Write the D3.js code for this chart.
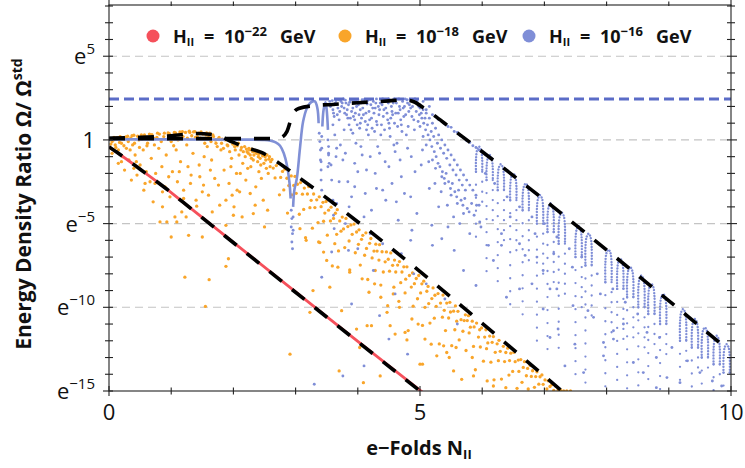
<!DOCTYPE html>
<meta charset="utf-8">
<script src="https://d3js.org/d3.v7.min.js"></script>
<style>
  body { margin: 0; background: #fff; }
  text { font-family: "Open Sans", "DejaVu Sans", sans-serif; }
</style>
<div id="chart"></div>
<script>
// ---- data: x = e-folds N_II, y = ln(Omega / Omega_std) ----
const xMajor = [0, 5, 10];
const yMajor = [-15, -10, -5, 0, 5];
const gridLevels = [5, 0, -5, -10];

const legendLabels = ["\u221222", "\u221218", "\u221216"];

// H = 1e-22 GeV : dense points that read as a solid line
const redLine = [[0, -0.42], [0.15, -0.8], [0.3, -1.2], [0.5, -1.75], [0.7, -2.3], [0.95, -3.0], [1.2, -3.75], [2, -6.12], [3, -9.08], [4, -12.04], [5.05, -15.1]];
const redFit = [[0, -0.42], [0.15, -0.8], [0.3, -1.2], [0.5, -1.75], [0.7, -2.3], [0.95, -3.0], [1.2, -3.75], [5, -15]];

// H = 1e-18 GeV
const orangeFit = [[0, 0.1], [0.5, 0.15], [1.0, 0.25], [1.4, 0.38], [1.7, 0.3], [2.0, -0.15], [2.2, -0.45], [2.45, -0.75], [2.7, -1.3], [3.0, -2.1], [7.28, -15]];
const orangeDots = [
  // early plateau
  [0.02,0.05],[0.05,-0.1],[0.08,0.15],[0.1,-0.3],[0.12,0.1],[0.15,-0.6],[0.18,0.2],[0.2,-0.2],[0.22,-1.0],[0.25,0.05],[0.28,-0.5],[0.3,0.22],[0.05,-0.8],[0.15,-1.4],[0.25,-1.8],[0.32,-1.2],
  [0.35,0.1],[0.38,-0.3],[0.4,0.28],[0.42,-0.9],[0.45,-2.1],[0.48,0.0],[0.5,-1.5],[0.52,0.3],[0.55,-0.6],[0.58,-2.6],[0.6,0.15],[0.36,-2.4],[0.44,-1.3],[0.56,-3.0],
  [0.62,-0.2],[0.65,0.35],[0.68,-1.1],[0.71,-3.7],[0.72,0.1],[0.75,-2.0],[0.78,0.4],[0.8,-0.5],[0.82,-4.9],[0.85,-1.6],[0.88,0.2],[0.9,-2.8],[0.92,-0.9],[0.93,-4.9],[0.95,0.42],[0.98,-3.4],[1.0,-0.1],[0.66,-2.5],[0.86,-3.1],
  [1.02,-1.9],[1.05,0.45],[1.06,-4.6],[1.08,-0.6],[1.09,-4.9],[1.1,-2.5],[1.12,0.3],[1.15,-1.3],[1.17,-4.3],[1.18,0.5],[1.2,-3.0],[1.22,-8.2],[1.24,-4.6],[1.25,-0.3],[1.28,-5.7],[1.3,0.45],[1.32,-2.1],[1.35,-0.8],[1.38,0.5],[1.4,-3.6],[1.41,-3.96],[1.0,-5.8],[1.27,-1.6],
  [1.42,0.2],[1.45,-1.5],[1.48,0.48],[1.5,-5.8],[1.52,-2.7],[1.55,-9.95],[1.56,0.3],[1.58,-0.4],[1.6,-3.3],[1.61,-8.35],[1.62,0.4],[1.65,-1.2],[1.68,0.2],[1.7,-2.3],[1.72,-0.2],[1.75,0.05],[1.78,-3.9],[1.8,-0.6],[1.53,-1.0],[1.66,-4.3],
  [1.82,0.05],[1.85,-1.8],[1.88,-5.1],[1.88,-7.55],[1.9,-0.3],[1.92,-7.1],[1.93,-2.6],[1.95,-0.1],[1.97,-1.1],[2.0,-4.5],[2.01,-4.0],[2.02,-0.4],[2.05,-2.0],[2.08,-0.2],[2.1,-3.1],[2.12,-0.6],[2.15,-1.4],[2.18,-0.4],[2.2,-2.4],[2.22,-0.7],[1.98,-3.3],[2.14,-4.6],
  [2.25,-0.5],[2.27,-0.9],[2.3,-0.55],[2.32,-1.2],[2.34,-0.7],[2.36,-2.8],[2.38,-0.65],[2.4,-1.0],[2.42,-0.75],[2.44,-1.5],[2.46,-0.8],[2.48,-3.6],[2.5,-0.85],[2.52,-1.2],[2.54,-0.9],[2.56,-2.0],[2.58,-1.0],[2.6,-1.3],[2.28,-1.6],[2.35,-3.9],[2.45,-2.3],[2.5,-5.2],[2.55,-4.2],[2.32,-4.4],
  [0.03,-0.25],[0.07,0.0],[0.11,-0.45],[0.14,0.12],[0.17,-0.15],[0.21,0.1],[0.24,-0.35],[0.27,0.18],[0.31,-0.1],[0.34,-0.6],[0.37,0.25],[0.41,-0.2],[0.46,0.22],[0.49,-0.45],[0.53,0.05],[0.57,0.3],[0.61,-0.35],[0.64,0.1],[0.69,0.32],[0.73,-0.3],[0.77,0.15],[0.81,0.35],[0.84,-0.1],[0.89,0.4],[0.94,0.05],[0.97,0.38],
  [1.01,0.25],[1.04,-0.35],[1.07,0.42],[1.11,0.0],[1.14,0.48],[1.19,0.2],[1.23,0.45],[1.26,0.1],[1.29,0.52],[1.33,0.25],[1.36,0.48],[1.39,0.15],[1.44,0.4],[1.47,0.1],[1.51,0.35],[1.54,-0.2],[1.57,0.42],[1.6,0.15],[1.64,-0.1],[1.67,0.3],[1.71,0.0],[1.74,-0.4],[1.77,0.15],[1.81,-0.2],[1.84,-0.5],[1.87,0.0],[1.91,-0.35],[1.94,-0.7],[1.99,-0.25],
  [2.03,-0.6],[2.06,-0.35],[2.09,-0.9],[2.13,-0.45],[2.16,-0.7],[2.19,-1.0],[2.21,-0.55],[2.24,-0.8],[2.26,-0.6],[2.29,-1.1],[2.31,-0.7],[2.33,-0.9],[2.37,-0.8],[2.39,-1.3],[2.41,-0.85],[2.43,-1.1],[2.47,-0.95],[2.49,-1.4],[2.51,-1.0],[2.53,-1.7],[2.57,-1.15],[2.59,-1.6],
  [0.2,-1.3],[0.4,-1.7],[0.6,-1.9],[0.74,-2.6],[0.96,-2.2],[1.13,-1.9],[1.31,-2.6],[1.46,-2.2],[1.63,-1.8],[1.76,-2.7],[1.96,-1.6],[2.11,-2.0],[2.23,-1.7],[2.41,-1.9],[1.5,-3.1],[1.2,-3.5],[0.86,-4.0],[1.88,-3.6],[2.06,-3.0],[2.27,-3.2],
  // steep fall-off band
  [2.62,-1.17],[2.64,-1.68],[2.67,-2.27],[2.69,-1.53],[2.73,-1.4],[2.74,-3.28],[2.76,-2.24],[2.79,-1.88],[2.81,-2.99],[2.83,-1.75],[2.86,-2.29],[2.87,-4.37],[2.89,-2.73],[2.93,-2.15],[2.94,-3.28],[2.97,-2.72],[2.99,-2.18],
  [3.01,-3.19],[3.03,-2.65],[3.06,-4.44],[3.08,-2.55],[3.11,-3.24],[3.13,-4.15],[3.14,-2.88],[3.16,-5.84],[3.19,-3.23],[3.21,-2.79],[3.23,-4.05],[3.25,-3.61],[3.27,-5.27],[3.29,-3.23],[3.31,-4.04],[3.34,-3.58],[3.36,-4.94],[3.38,-3.4],[3.39,-6.13],
  [3.41,-3.99],[3.44,-3.73],[3.45,-4.86],[3.47,-4.37],[3.49,-3.68],[3.51,-5.69],[3.53,-4.2],[3.56,-4.84],[3.57,-4.02],[3.59,-7.53],[3.61,-4.69],[3.64,-4.38],[3.66,-5.64],[3.67,-4.17],[3.69,-6.63],[3.71,-4.84],[3.73,-5.45],[3.75,-4.61],[3.77,-5.32],[3.79,-6.43],
  [3.81,-4.69],[3.84,-5.18],[3.86,-6.04],[3.87,-7.77],[3.89,-5.08],[3.91,-5.64],[3.94,-5.03],[3.96,-6.74],[3.98,-5.5],[4.01,-6.24],[4.02,-5.37],[4.04,-7.48],[4.06,-5.94],[4.08,-5.7],[4.11,-6.89],[4.13,-5.55],[4.14,-6.48],[4.16,-8.34],[4.19,-6.18],
  [4.21,-5.89],[4.23,-7.05],[4.26,-6.64],[4.28,-7.8],[4.29,-6.23],[4.31,-6.64],[4.34,-7.18],[4.35,-6.26],[4.37,-8.67],[4.39,-6.68],[4.41,-7.89],[4.44,-7.28],[4.46,-6.69],[4.48,-9.9],[4.49,-7.13],[4.51,-7.84],[4.53,-6.75],[4.56,-7.49],[4.58,-8.8],[4.59,-7.18],
  [4.61,-7.89],[4.64,-7.48],[4.66,-9.64],[4.67,-7.27],[4.69,-8.53],[4.71,-7.89],[4.74,-7.58],[4.76,-9.14],[4.77,-8.32],[4.79,-7.58],[4.81,-11.39],[4.83,-8.1],[4.86,-8.79],[4.88,-7.95],[4.89,-9.93],[4.91,-8.59],[4.94,-8.28],[4.96,-9.49],[4.98,-8.1],
  [5.01,-9.14],[5.03,-8.6],[5.04,-11.08],[5.06,-8.44],[5.08,-10.0],[5.11,-9.04],[5.13,-8.75],[5.14,-9.78],[5.16,-10.94],[5.19,-9.48],[5.21,-8.84],[5.23,-10.65],[5.24,-9.28],[5.26,-9.94],[5.29,-9.18],[5.31,-12.19],[5.33,-9.75],[5.36,-10.59],[5.37,-9.27],[5.39,-10.18],
  [5.41,-11.39],[5.43,-9.75],[5.46,-10.64],[5.48,-9.7],[5.49,-10.28],[5.51,-12.29],[5.54,-10.23],[5.56,-11.34],[5.57,-9.92],[5.59,-10.83],[5.61,-10.24],[5.63,-11.95],[5.66,-10.74],[5.69,-11.43],[5.71,-10.79],[5.73,-10.45],[5.74,-12.58],[5.76,-10.79],[5.78,-10.5],[5.79,-11.53],
  [5.81,-11.19],[5.84,-10.83],[5.86,-12.34],[5.87,-11.17],[5.89,-13.73],[5.91,-10.94],[5.94,-11.78],[5.96,-11.34],[5.97,-12.37],[5.99,-11.23],[6.02,-13.22],[6.04,-11.78],[6.06,-11.34],[6.07,-12.47],[6.09,-12.13],[6.12,-11.72],[6.14,-13.28],[6.16,-12.09],[6.18,-11.75],[6.19,-14.33],
  [6.21,-12.69],[6.24,-12.18],[6.26,-13.19],[6.27,-11.97],[6.29,-12.63],[6.31,-14.29],[6.34,-12.33],[6.36,-13.24],[6.38,-12.7],[6.41,-12.44],[6.43,-14.05],[6.44,-13.18],[6.46,-12.74],[6.49,-13.83],[6.51,-12.69],[6.53,-13.25],[6.56,-14.84],[6.58,-13.15],[6.59,-13.83],
  [6.62,-13.12],[6.64,-14.48],[6.66,-13.59],[6.68,-13.25],[6.71,-14.09],[6.73,-13.65],[6.74,-14.88],[6.77,-13.47],[6.79,-14.13],[6.81,-13.79],[6.84,-14.78],[6.86,-14.14],[6.88,-13.85],[6.91,-14.59],[6.93,-14.15],[6.96,-14.04],[6.98,-14.6],
  [7.01,-14.34],[7.04,-14.88],[7.06,-14.39],[7.09,-14.73],[7.12,-14.62],[7.15,-14.96],[7.18,-14.7],[7.22,-14.92],[7.26,-14.94],[7.31,-15.0],[7.36,-15.0],[7.42,-15.0],
  // sparse points well below the band
  [2.91,-12.8],[3.07,-5.3],[3.17,-6.0],[3.23,-10.3],[3.28,-9.0],[3.37,-6.1],[3.45,-6.7],[3.5,-7.2],[3.55,-8.8],[3.63,-6.2],[3.68,-7.6],[3.7,-13.8],[3.74,-10.2],[3.87,-7.9],[3.98,-11.3],[4.03,-12.4],[4.07,-8.3],[4.09,-14.5],[4.15,-11.1],[4.18,-9.1],
  [4.22,-11.1],[4.27,-8.6],[4.36,-14.1],[4.37,-9.4],[4.47,-10.3],[4.52,-11.1],[4.57,-9.2],[4.6,-11.6],[4.67,-10.0],[4.76,-11.5],[4.79,-11.95],[4.87,-10.7],[4.97,-11.0],[5.0,-13.4],[5.04,-13.4],[5.08,-11.9],[5.18,-12.2],[5.27,-12.9],[5.38,-12.3],[5.43,-12.7],
  [5.47,-13.0],[5.54,-13.8],[5.58,-12.4],[5.67,-14.3],[5.75,-15.1],[5.84,-13.0],[5.86,-14.1],[6.08,-14.4],[6.18,-14.7],[6.38,-14.8]
];

// H = 1e-16 GeV
const blueLevel = 2.44;
const blueFit = [[0, 0.08], [2.6, 0.08], [2.75, 0.12], [2.86, 0.5], [2.96, 1.6], [3.05, 1.88], [3.3, 2.05], [3.6, 2.12], [4.0, 2.22], [4.5, 2.33], [4.75, 2.4], [4.9, 2.28], [5.1, 1.8], [5.5, 0.7], [9.9, -12.37]];
const blueLineA = [[0, 0.03], [1, 0.03], [2, 0.02], [2.5, 0.0], [2.6, -0.05], [2.68, -0.15], [2.75, -0.35], [2.81, -0.8], [2.86, -1.5], [2.9, -2.5], [2.92, -3.5]];
const blueLineB = [[2.96, -4.0], [2.98, -3.0], [3.02, -2.3], [3.07, -0.5], [3.12, 1.08], [3.18, 1.88], [3.26, 2.28], [3.31, 2.3], [3.35, 1.9], [3.37, 1.0]];
const blueLineC = [[3.43, 0.8], [3.45, 1.8], [3.48, 2.25], [3.5, 1.8], [3.52, 0.6]];
const blueDots = [
  [2.93,-4.2],[2.94,-4.7],[2.93,-5.2],[2.95,-5.6],[2.94,-6.1],[2.95,-6.5],[2.96,-4.6],[2.96,-5.4],
  [3.38,0.4],[3.39,-0.1],[3.4,-0.6],[3.4,-1.2],[3.41,-1.8],[3.41,-2.4],[3.42,-3.0],[3.42,0.2],[3.52,0.0],[3.53,-0.4],[3.53,-0.9],[3.54,-1.4],
  [3.42,-8.2],[3.58,-6.7],[3.85,-6.6],[3.76,-14.1],
  [3.55,2.3],[3.58,2.1],[3.6,1.8],[3.62,1.4],[3.6,0.9],[3.63,0.3],[3.65,2.35],[3.66,-0.5],[3.68,1.9],[3.7,1.2],[3.57,-1.5],[3.58,-2.4],[3.6,-3.6],[3.61,-4.5],[3.62,-5.3],[3.42,-0.5],[3.41,-1.3],[3.53,-0.8],[3.52,-1.6],
  [3.72,2.4],[3.75,2.2],[3.78,1.9],[3.8,2.38],[3.82,1.5],[3.85,2.1],[3.86,0.9],[3.88,2.4],[3.9,1.7],[3.92,0.4],[3.94,2.3],[3.95,1.2],[3.97,-0.2],[3.98,2.0],[4.0,2.42],[4.02,1.5],[4.03,0.7],[4.05,2.2],[4.07,-0.9],[4.08,1.9],[4.1,2.4],[4.12,1.1],[4.14,-1.8],[4.15,2.15],[4.17,0.3],[4.18,1.7],[4.2,2.42],[3.76,-1.2],[3.84,-2.5],[3.9,-3.4],[4.0,-1.9],[4.1,-4.6],[3.8,-5.0],
  [3.74,2.0],[3.83,1.8],[3.92,1.9],[4.04,1.8],[4.13,1.6],[3.96,1.6],[4.06,1.3],[3.88,1.3],[3.78,0.6],[4.16,0.9],
  [3.56,2.0],[3.59,2.35],[3.61,1.6],[3.64,2.2],[3.67,1.5],[3.69,2.4],[3.71,1.7],[3.73,2.3],[3.77,2.45],[3.79,1.6],[3.81,2.2],[3.84,1.3],[3.87,2.25],[3.89,0.6],[3.91,2.4],[3.93,1.4],[3.97,2.35],[3.99,0.9],[4.01,2.1],[4.04,1.0],[4.07,2.4],[4.09,1.5],[4.11,2.25],[4.14,0.6],[4.16,2.35],[4.19,1.2],
  [4.21,2.1],[4.23,0.7],[4.26,1.6],[4.29,2.2],[4.31,0.9],[4.35,1.8],[4.37,0.3],[4.39,2.1],[4.41,1.4],[4.43,0.6],[4.47,1.6],[4.49,2.2],[4.51,0.7],[4.53,1.3],[4.57,2.2],[4.59,1.0],[4.61,1.6],[4.63,-0.2],[4.67,2.0],[4.69,1.2],[4.71,0.5],[4.73,1.9],[4.77,1.5],[4.79,2.4],[4.81,0.8],[4.83,2.1],[4.87,1.4],[4.89,2.4],[4.91,0.6],[4.94,1.7],[4.97,1.1],[4.99,1.5],
  [4.22,1.3],[4.25,2.3],[4.27,0.5],[4.28,1.9],[4.3,2.45],[4.32,-0.4],[4.34,1.5],[4.36,2.2],[4.38,0.9],[4.4,2.45],[4.42,1.8],[4.44,-1.3],[4.46,2.3],[4.48,1.2],[4.5,2.45],[4.52,0.2],[4.54,2.0],[4.56,1.5],[4.58,2.45],[4.6,-0.7],[4.62,2.2],[4.64,0.8],[4.66,2.45],[4.68,1.8],[4.7,-2.2],[4.72,2.3],[4.74,1.4],[4.76,2.45],[4.78,0.3],[4.8,2.2],[4.82,1.7],[4.84,2.4],[4.86,-1.0],[4.88,2.0],[4.9,1.2],
  [4.24,1.9],[4.33,2.0],[4.45,1.9],[4.55,1.7],[4.65,1.6],[4.75,2.0],[4.85,1.9],[4.3,1.1],[4.5,1.0],[4.7,0.9],
  [3.65,-1.0],[3.72,-0.3],[3.8,-0.8],[3.95,-1.4],[4.05,-0.4],[4.2,-1.0],[4.28,-2.0],[4.35,-0.8],[4.5,-1.6],[4.58,-0.3],[4.68,-1.2],[4.8,-0.5],[4.92,-1.9],[3.7,-2.5],[3.95,-2.8],[4.12,-3.2],[4.22,-4.2],[4.4,-3.0],[4.62,-3.7],[4.85,-3.4],[4.95,-4.4],[3.86,-4.0],[3.66,-3.8],[4.0,-6.5],[4.2,-5.6],[4.7,-6.8],[4.9,-8.0],[3.9,-9.8],[4.35,-10.5],[4.8,-12.8],[4.1,-13.5],[3.3,-14.6],
  [4.3,-2.9],[4.45,-3.6],[4.55,-2.6],[4.65,-4.8],[4.75,-3.2],[4.4,-6.2],[4.25,-7.8],[4.6,-9.2],[4.85,-6.0],[4.5,-11.9],[4.87,-5.4],[5.19,-5.1],[5.35,-5.9],
  [4.92,2.45],[4.95,2.3],[4.98,2.0],[5.0,1.9],[5.02,1.6],[5.05,1.8],[5.08,1.3],[5.1,1.6],[5.12,0.9],[5.15,1.3],[5.18,0.5],[5.2,1.0],[5.22,0.2],[5.25,0.7],[5.28,-0.2],[5.3,0.3],[5.33,-0.5],[5.35,0.0],[5.38,-0.8],[5.4,-0.3],[5.43,-1.1],[5.45,-0.6],[5.48,-1.5],[5.5,-0.9],[5.53,-1.8],[5.55,-1.2],[5.58,-2.1],[5.6,-1.5],[5.63,-2.4],[5.65,-1.8],[5.68,-2.7],[5.7,-2.1],[5.73,-3.0],[5.75,-2.4],[5.8,-2.7],[5.85,-3.0],[5.9,-3.3],
  [5.0,2.1],[5.1,1.8],[5.2,1.5],[5.3,1.2],[5.4,0.95],[5.5,0.75],[5.6,0.45],[5.7,0.15],[5.8,-0.15],[5.9,-0.45],
  [5.03,1.3],[5.06,1.0],[5.09,0.6],[5.13,0.3],[5.16,0.0],[5.19,-0.4],[5.23,-0.7],[5.26,-1.0],[5.29,-1.4],[5.32,-1.6],[5.36,-1.9],[5.39,-2.3],[5.42,-2.0],[5.46,-2.5],[5.49,-2.9],[5.52,-2.6],[5.56,-3.1],[5.59,-3.4],[5.62,-3.0],[5.66,-3.6],[5.69,-3.9],[5.72,-3.5],[5.76,-4.1],[5.79,-4.3],[5.83,-3.8],[5.87,-4.5],
  [5.04,-0.6],[5.14,-1.3],[5.24,-2.6],[5.34,-3.1],[5.44,-3.9],[5.54,-4.6],[5.64,-5.0],[5.8,-5.6],[5.05,2.3],[5.15,2.0],[5.25,1.4],[5.35,1.1],[5.45,0.8],[5.55,0.5],[5.65,0.25],[5.75,-0.05],[5.85,-0.35],[5.95,-0.6],
  [5.0,0.8],[5.05,0.2],[5.1,-0.3],[5.2,-1.2],[5.25,-1.7],[5.35,-2.2],[5.4,-2.6],[5.5,-3.3],[5.6,-3.8],[5.7,-4.4],[5.02,-1.5],[5.15,-2.9],[5.3,-4.0],[5.45,-5.2],[5.2,-6.3],[5.55,-6.6],[5.7,-7.8],[5.1,-8.6],[5.4,-9.5],[5.9,-8.7],[5.6,-11.0],
  [5.91,-3.9],[5.95,-3.9],[5.96,-4.9],[5.98,-5.2],[6.1,-6.3],[6.18,-7.2],[6.31,-5.6],[6.31,-6.3],[6.39,-9.4],[6.6,-8.9],[6.6,-6.2],[6.69,-6.9],[6.8,-8.6],[6.88,-7.0],[6.98,-7.8],[6.98,-10.1],[7.09,-11.8],[7.09,-8.9],[7.2,-8.9],[7.22,-11.3],[7.33,-13.5],[7.46,-9.9],[7.49,-12.2],[7.63,-13.9],[7.7,-10.2],[7.79,-10.6],[7.95,-12.1],[7.95,-12.9],[8.11,-11.4],[8.11,-11.9],[8.27,-11.0],[8.43,-13.3],[8.59,-13.9],[8.8,-13.0],[8.8,-14.8],[8.97,-14.2],[9.18,-14.5],
  [6.05,-2.0],[6.2,-2.6],[6.4,-3.4],[6.45,-4.6],[6.6,-4.0],[6.8,-4.6],[6.85,-5.6],[7.0,-5.0],[7.2,-5.8],[7.15,-6.8],[7.4,-6.5],[7.45,-7.6],[7.6,-7.0],[7.85,-8.0],[7.9,-9.2],[8.1,-8.9],[8.3,-9.7],[8.5,-10.4],[8.65,-11.5],[8.85,-11.8],[9.05,-12.4],[9.3,-13.2],[9.5,-13.9],[9.7,-14.4],[9.85,-14.7]
];
// arches of the oscillating 1e-16 spectrum: [N, top, bottom of dense legs, bottom of sparse column]
const blueArches = [
  [5.95, -0.4, -1.9, -6], [6.12, -0.9, -2.4, -8], [6.3, -1.45, -3.0, -9], [6.5, -2.0, -3.6, -10], [6.7, -2.6, -4.2, -11],
  [6.93, -3.3, -5.0, -12], [7.1, -3.8, -5.5, -12.5], [7.28, -4.35, -6.2, -13], [7.55, -5.15, -7.0, -14], [7.71, -5.6, -7.5, -14.5],
  [8.03, -6.55, -8.5, -15], [8.22, -7.1, -8.9, -15], [8.38, -7.6, -9.4, -15], [8.56, -8.1, -10.0, -15], [8.72, -8.6, -10.4, -15],
  [8.91, -9.2, -11.0, -15], [9.23, -10.1, -12.0, -15], [9.42, -10.7, -12.4, -15], [9.58, -11.2, -13.0, -15], [9.77, -11.7, -13.4, -15],
  [9.93, -12.2, -13.9, -15]
];

// ---- layout ----
const width = 745, height = 468;
const margin = {top: 5, right: 14, bottom: 77, left: 109};

const colors = {red: "#f5505b", orange: "#f9a52a", blue: "#7f8ed7", blueLine: "#8090d6", blueDash: "#5b6cc7"};

const svg = d3.select("#chart").append("svg")
  .attr("width", width).attr("height", height);

const x = d3.scaleLinear().domain([0, 10]).range([margin.left, width - margin.right]);
const y = d3.scaleLinear().domain([-15, 8.06]).range([height - margin.bottom, margin.top]);

const plot = svg.append("g");
plot.append("clipPath").attr("id", "clip").append("rect")
  .attr("x", x(0)).attr("y", y(8.06)).attr("width", x(10) - x(0)).attr("height", y(-15) - y(8.06));
const inner = plot.append("g").attr("clip-path", "url(#clip)");

// grid
inner.selectAll("line.grid").data(gridLevels).join("line")
  .attr("class", "grid")
  .attr("x1", x(0)).attr("x2", x(10))
  .attr("y1", d => y(d)).attr("y2", d => y(d))
  .attr("stroke", "#c4c4c4").attr("stroke-width", 1.1).attr("stroke-dasharray", "8,5");

const line = d3.line().x(d => x(d[0])).y(d => y(d[1]));

// orange points
inner.append("g").selectAll("circle").data(orangeDots).join("circle")
  .attr("cx", d => x(d[0])).attr("cy", d => y(d[1])).attr("r", 1.65)
  .attr("fill", colors.orange);

// blue arches (dense sampled points drawn as dotted strokes)
const arch = d3.line().x(d => x(d[0])).y(d => y(d[1])).curve(d3.curveCatmullRom);
const hw = 0.05;
blueArches.forEach(a => {
  const [n, top, legBot, colBot] = a;
  inner.append("path")
    .attr("d", arch([[n - hw, legBot], [n - hw, top - 0.8], [n - hw * 0.6, top - 0.18], [n, top], [n + hw * 0.6, top - 0.18], [n + hw, top - 0.8], [n + hw, legBot]]))
    .attr("fill", "none").attr("stroke", colors.blue).attr("stroke-width", 2.4)
    .attr("stroke-linecap", "round").attr("stroke-dasharray", "0.01,2.9");
  inner.append("path")
    .attr("d", line([[n - hw, legBot], [n - hw, colBot]]))
    .attr("fill", "none").attr("stroke", colors.blue).attr("stroke-width", 2.3)
    .attr("stroke-linecap", "round").attr("stroke-dasharray", "0.01,13");
  inner.append("path")
    .attr("d", line([[n + hw, legBot], [n + hw, (legBot + colBot) / 2]]))
    .attr("fill", "none").attr("stroke", colors.blue).attr("stroke-width", 2.3)
    .attr("stroke-linecap", "round").attr("stroke-dasharray", "0.01,10");
});

// blue points
inner.append("g").selectAll("circle").data(blueDots).join("circle")
  .attr("cx", d => x(d[0])).attr("cy", d => y(d[1])).attr("r", 1.45)
  .attr("fill", colors.blue);

// solid-looking series
inner.append("path").attr("d", line(redLine))
  .attr("fill", "none").attr("stroke", colors.red).attr("stroke-width", 2.8);
[blueLineA, blueLineB, blueLineC].forEach(seg => {
  inner.append("path").attr("d", arch(seg))
    .attr("fill", "none").attr("stroke", colors.blueLine).attr("stroke-width", 2.6);
});

// blue horizontal reference
inner.append("line")
  .attr("x1", x(0)).attr("x2", x(10)).attr("y1", y(blueLevel)).attr("y2", y(blueLevel))
  .attr("stroke", colors.blueDash).attr("stroke-width", 3).attr("stroke-dasharray", "10,5");

// black dashed fits
const fit = d3.line().x(d => x(d[0])).y(d => y(d[1])).curve(d3.curveMonotoneX);
[redFit, orangeFit, blueFit].forEach(f => {
  inner.append("path").attr("d", fit(f))
    .attr("fill", "none").attr("stroke", "#000").attr("stroke-width", 3.6)
    .attr("stroke-dasharray", "16,13");
});

// ---- frame and ticks ----
const frame = svg.append("g").attr("stroke", "#222").attr("stroke-width", 1.1);
frame.append("rect").attr("x", x(0)).attr("y", y(8.06))
  .attr("width", x(10) - x(0)).attr("height", y(-15) - y(8.06)).attr("fill", "none");

const xTicks = d3.range(0, 11);
const yTicks = d3.range(-15, 9);
xTicks.forEach(t => {
  const L = xMajor.includes(t) ? 5 : 3.5;
  frame.append("line").attr("x1", x(t)).attr("x2", x(t)).attr("y1", y(-15) - L).attr("y2", y(-15) + L);
  frame.append("line").attr("x1", x(t)).attr("x2", x(t)).attr("y1", y(8.06) - L).attr("y2", y(8.06) + 1);
});
yTicks.forEach(t => {
  const L = yMajor.includes(t) ? 6 : 4;
  frame.append("line").attr("x1", x(0) - L).attr("x2", x(0) + 4).attr("y1", y(t)).attr("y2", y(t));
  frame.append("line").attr("x1", x(10) - 4).attr("x2", x(10) + L).attr("y1", y(t)).attr("y2", y(t));
});

// tick labels
xMajor.forEach(t => {
  svg.append("text").attr("x", x(t)).attr("y", y(-15) + 29)
    .attr("text-anchor", "middle").attr("font-size", 22).attr("fill", "#111").text(t);
});
yMajor.forEach(t => {
  const tx = svg.append("text").attr("x", x(0) - 14).attr("y", y(t) + 8)
    .attr("text-anchor", "end").attr("font-size", 22).attr("fill", "#111");
  if (t === 0) { tx.text("1"); return; }
  tx.append("tspan").text("e");
  tx.append("tspan").attr("dy", -10).attr("font-size", 15).text(String(t).replace("-", "\u2212"));
});

// axis titles
svg.append("text").attr("x", 419).attr("y", 455).attr("text-anchor", "middle")
  .attr("font-size", 20).attr("font-weight", 700).attr("fill", "#111")
  .call(t => {
    t.append("tspan").text("e\u2212Folds N");
    t.append("tspan").attr("font-size", 13).attr("dy", 4).text("II");
  });
svg.append("text").attr("transform", "translate(31,204) rotate(-90)").attr("text-anchor", "middle")
  .attr("font-size", 21).attr("font-weight", 700).attr("fill", "#111")
  .call(t => {
    t.append("tspan").text("Energy Density Ratio \u03a9/ \u03a9");
    t.append("tspan").attr("font-size", 14).attr("dy", -9).text("std");
  });

// legend
const legendX = [153, 345, 529];
const legendColors = [colors.red, colors.orange, colors.blue];
legendLabels.forEach((lab, i) => {
  const g = svg.append("g").attr("transform", `translate(${legendX[i]},36)`);
  g.append("circle").attr("r", 6.5).attr("fill", legendColors[i]);
  const t = g.append("text").attr("x", 20).attr("y", 6.5)
    .attr("font-family", "'Liberation Sans', Arial, sans-serif")
    .attr("font-size", 18).attr("font-weight", 700).attr("fill", "#111");
  t.append("tspan").text("H");
  t.append("tspan").attr("font-size", 11).attr("dy", 3).text("II");
  t.append("tspan").attr("dy", -3).attr("x", 51).text("=");
  t.append("tspan").attr("x", 71).text("10");
  t.append("tspan").attr("font-size", 13).attr("dy", -7).text(lab);
  t.append("tspan").attr("dy", 7).attr("x", 127).text("GeV");
});
</script>
